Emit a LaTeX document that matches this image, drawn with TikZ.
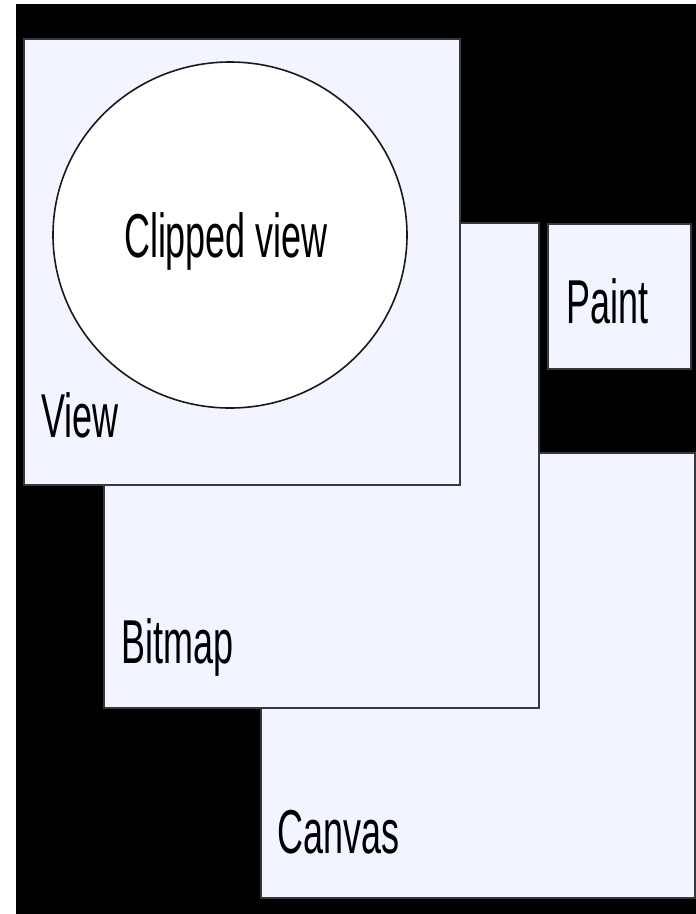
\documentclass[tikz,border=0pt]{standalone}
\usepackage{fontspec}
\setmainfont{Liberation Sans}
\usetikzlibrary{shapes.geometric}
\definecolor{boxfill}{RGB}{242,244,255}
\definecolor{boxline}{RGB}{55,55,62}
\tikzset{
  panel/.style={draw=boxline, line width=1.6pt, fill=boxfill, rectangle, inner sep=0pt, anchor=north west},
  lbl/.style={inner sep=0pt, anchor=base west, font=\fontsize{62}{62}\selectfont},
}
\newcommand{\sq}[1]{\scalebox{0.58}[1]{#1}}
\begin{document}
\begin{tikzpicture}[x=1pt,y=-1pt]
\useasboundingbox (0,0) rectangle (696,914);
\fill[white] (0,0) rectangle (696,914);
\fill[black] (16,4) rectangle (696,914);
% Canvas (back)
\node[panel, minimum width=434pt, minimum height=445pt] (canvas) at (260,452) {};
% Bitmap
\node[panel, minimum width=435pt, minimum height=485pt] (bitmap) at (103,222) {};
% View
\node[panel, minimum width=436pt, minimum height=446pt] (view) at (23,38) {};
% Paint
\node[panel, minimum width=143pt, minimum height=145pt] (paint) at (547,223) {};
% Clipped view ellipse
\node[ellipse, draw=black!90, line width=1.6pt, fill=white, minimum width=354pt, minimum height=346pt, inner sep=0pt] (clip) at (230,235) {};
% Labels
\node[lbl, anchor=base] (cliplbl) at (226,257) {\sq{Clipped view}};
\node[lbl] (viewlbl) at (41,437) {\sq{View}};
\node[lbl] (bitmaplbl) at (121,663) {\sq{Bitmap}};
\node[lbl] (canvaslbl) at (277,853) {\sq{Canvas}};
\node[lbl] (paintlbl) at (566,323) {\sq{Paint}};
\end{tikzpicture}
\end{document}
